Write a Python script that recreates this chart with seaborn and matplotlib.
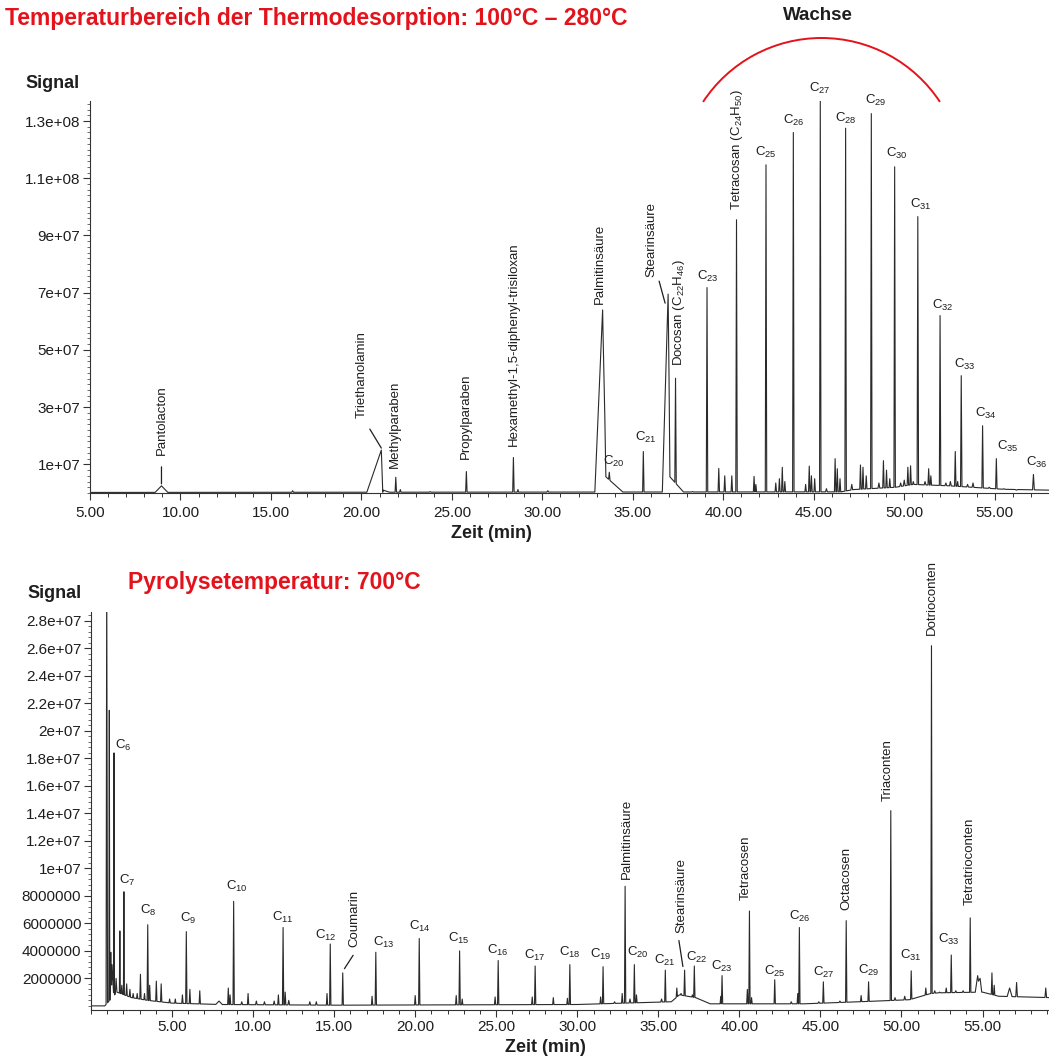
import numpy as np
import pandas as pd
import matplotlib
matplotlib.use('Agg')
import matplotlib.pyplot as plt
from matplotlib.patches import Arc
from matplotlib.ticker import MultipleLocator
from matplotlib.transforms import offset_copy
import seaborn as sns

# ---------------- data: thermodesorption (top) ----------------
# peak retention time (min), peak top signal, left / right half width (min)
td_time = [8.95, 16.2, 21.1, 21.2, 21.9, 22.15, 23.8, 25.8, 28.4, 28.65, 30.3,
           33.33, 33.45, 33.7, 35.58, 36.95, 37.0, 37.36, 38.3, 39.1, 39.75, 40.08,
           40.47, 40.73, 41.7, 41.8, 42.36, 42.9, 43.1, 43.26, 43.4, 43.87, 44.55,
           44.75, 44.87, 45.05, 45.36, 45.7, 46.18, 46.3, 46.45, 46.76, 47.1, 47.58,
           47.72, 47.9, 48.18, 48.6, 48.85, 49.02, 49.2, 49.47, 49.8, 50.0, 50.2,
           50.35, 50.5, 50.75, 51.15, 51.35, 51.47, 51.98, 52.3, 52.55, 52.82, 52.95,
           53.15, 53.5, 53.8, 54.33, 54.7, 55.09, 55.5, 56.2, 57.14]
td_height = [0.25e7, 0.08e7, 1.5e7, 0.1e7, 0.55e7, 0.12e7, 0.05e7, 0.75e7, 1.24e7, 0.12e7, 0.08e7,
             6.4e7, 0.6e7, 0.3e7, 1.45e7, 6.95e7, 0.6e7, 3.7e7, 0.05e7, 7.18e7, 0.86e7, 0.6e7,
             0.6e7, 9.55e7, 0.58e7, 0.3e7, 11.47e7, 0.35e7, 0.5e7, 0.9e7, 0.4e7, 12.6e7, 0.3e7,
             0.94e7, 0.6e7, 0.5e7, 13.7e7, 0.15e7, 1.2e7, 0.85e7, 0.5e7, 12.75e7, 0.3e7, 0.98e7,
             0.9e7, 0.6e7, 13.26e7, 0.35e7, 1.13e7, 0.8e7, 0.5e7, 11.4e7, 0.35e7, 0.45e7, 0.9e7,
             0.95e7, 0.4e7, 9.66e7, 0.4e7, 0.85e7, 0.6e7, 6.2e7, 0.35e7, 0.4e7, 1.45e7, 0.4e7,
             4.1e7, 0.3e7, 0.35e7, 2.35e7, 0.2e7, 1.2e7, 0.15e7, 0.1e7, 0.65e7]
td_wl = [0.35, 0.05, 0.8, 0.02, 0.04, 0.04, 0.05, 0.04, 0.04, 0.04, 0.05,
         0.43, 0.1, 0.04, 0.04, 0.32, 0.05, 0.04, 0.05, 0.04, 0.04, 0.04,
         0.04, 0.04, 0.04, 0.04, 0.04, 0.04, 0.04, 0.04, 0.04, 0.04, 0.04,
         0.04, 0.04, 0.04, 0.04, 0.05, 0.04, 0.04, 0.04, 0.04, 0.05, 0.04,
         0.04, 0.04, 0.04, 0.05, 0.04, 0.04, 0.04, 0.04, 0.05, 0.05, 0.04,
         0.04, 0.04, 0.04, 0.05, 0.04, 0.04, 0.04, 0.05, 0.05, 0.04, 0.04,
         0.04, 0.05, 0.05, 0.04, 0.06, 0.04, 0.06, 0.08, 0.05]
td_wr = [0.35, 0.05, 0.08, 0.35, 0.04, 0.04, 0.05, 0.04, 0.04, 0.04, 0.05,
         0.18, 1.0, 0.04, 0.04, 0.1, 0.8, 0.04, 0.05, 0.04, 0.04, 0.04,
         0.04, 0.04, 0.04, 0.04, 0.04, 0.04, 0.04, 0.04, 0.04, 0.04, 0.04,
         0.04, 0.04, 0.04, 0.04, 0.05, 0.04, 0.04, 0.04, 0.04, 0.05, 0.04,
         0.04, 0.04, 0.04, 0.05, 0.04, 0.04, 0.04, 0.04, 0.05, 0.05, 0.04,
         0.04, 0.04, 0.04, 0.05, 0.04, 0.04, 0.04, 0.05, 0.05, 0.04, 0.04,
         0.04, 0.05, 0.05, 0.04, 0.06, 0.04, 0.06, 0.08, 0.05]
td_base_time = [5, 46.5, 47.2, 49.5, 50.5, 52.5, 55.5, 58]
td_base_level = [0.02e7, 0.04e7, 0.12e7, 0.2e7, 0.3e7, 0.25e7, 0.13e7, 0.1e7]

td_labels = ['Pantolacton', 'Triethanolamin', 'Methylparaben', 'Propylparaben',
             'Hexamethyl-1,5-diphenyl-trisiloxan', 'Palmitinsäure', 'Stearinsäure',
             'Docosan (C$_{22}$H$_{46}$)', 'Tetracosan (C$_{24}$H$_{50}$)',
             'C$_{20}$', 'C$_{21}$', 'C$_{23}$', 'C$_{25}$', 'C$_{26}$', 'C$_{27}$', 'C$_{28}$',
             'C$_{29}$', 'C$_{30}$', 'C$_{31}$', 'C$_{32}$', 'C$_{33}$', 'C$_{34}$', 'C$_{35}$', 'C$_{36}$']
td_label_time = [8.95, 21.1, 21.9, 25.8, 28.4, 33.33, 36.95, 37.36, 40.73,
                 33.7, 35.58, 39.1, 42.36, 43.87, 45.36, 46.76, 48.18, 49.47, 50.75,
                 51.98, 53.15, 54.33, 55.09, 57.14]

td_yticks = [1e7, 3e7, 5e7, 7e7, 9e7, 1.1e8, 1.3e8]
td_yticklabels = ['1e+07', '3e+07', '5e+07', '7e+07', '9e+07', '1.1e+08', '1.3e+08']

# ---------------- data: pyrolysis 700°C (bottom) ----------------
py_time = [0.97, 1.13, 1.22, 1.3, 1.42, 1.55, 1.78, 1.9, 2.03, 2.2, 2.4, 2.6, 2.85, 3.05,
           3.3, 3.5, 3.62, 4.03, 4.33, 4.85, 5.2, 5.64, 5.88, 6.1, 6.71, 7.9, 8.47, 8.58,
           8.8, 9.3, 9.69, 10.2, 10.7, 11.3, 11.56, 11.85, 11.98, 12.2, 13.5, 13.9, 14.56,
           14.76, 15.53, 17.34, 17.57, 20.0, 20.25, 22.53, 22.74, 22.9, 24.93, 25.12, 27.22,
           27.4, 28.52, 29.39, 29.54, 31.44, 31.59, 32.3, 32.77, 32.95, 33.25, 33.52, 33.65,
           35.2, 35.43, 36.14, 36.4, 36.62, 37.1, 37.22, 38.85, 38.93, 40.49, 40.62, 40.75,
           42.18, 43.2, 43.6, 43.7, 44.9, 45.18, 46.2, 46.59, 47.51, 47.97, 49.34, 49.6,
           50.2, 50.6, 51.5, 51.85, 52.05, 52.35, 52.76, 53.07, 53.35, 53.8, 54.24, 54.7,
           54.85, 55.58, 55.72, 56.67, 57.1, 58.9]
py_height = [3.2e7, 2.15e7, 3.9e6, 3.0e6, 1.84e7, 2.0e6, 5.45e6, 1.5e6, 8.3e6, 1.6e6, 1.2e6,
             0.9e6, 0.9e6, 2.3e6, 0.9e6, 5.9e6, 1.5e6, 1.8e6, 1.6e6, 0.5e6, 0.5e6, 0.8e6, 5.4e6,
             1.2e6, 1.1e6, 0.35e6, 1.3e6, 0.8e6, 7.6e6, 0.3e6, 0.9e6, 0.35e6, 0.3e6, 0.35e6,
             0.8e6, 5.7e6, 1.0e6, 0.4e6, 0.3e6, 0.3e6, 0.9e6, 4.5e6, 2.4e6, 0.7e6, 3.9e6,
             0.75e6, 4.9e6, 0.75e6, 4.0e6, 0.5e6, 0.65e6, 3.3e6, 0.65e6, 2.9e6, 0.6e6, 0.55e6,
             3.0e6, 0.65e6, 2.85e6, 0.3e6, 0.9e6, 8.7e6, 0.5e6, 3.0e6, 0.8e6, 0.5e6, 2.6e6,
             1.3e6, 0.9e6, 2.6e6, 0.8e6, 2.9e6, 0.7e6, 2.2e6, 1.2e6, 6.9e6, 0.6e6, 1.9e6,
             0.3e6, 0.9e6, 5.7e6, 0.3e6, 1.75e6, 0.35e6, 6.2e6, 0.75e6, 1.75e6, 14.2e6, 0.6e6,
             0.7e6, 2.55e6, 1.3e6, 26.2e6, 1.1e6, 1.0e6, 1.3e6, 3.7e6, 1.1e6, 1.1e6, 6.4e6,
             2.2e6, 2.0e6, 2.4e6, 1.5e6, 1.3e6, 1.7e6, 1.3e6]
py_wl = [0.04, 0.03, 0.05, 0.05, 0.03, 0.05, 0.03, 0.04, 0.03, 0.04, 0.04, 0.04, 0.04, 0.04,
         0.04, 0.04, 0.04, 0.04, 0.04, 0.04, 0.04, 0.04, 0.04, 0.04, 0.04, 0.2, 0.04, 0.04,
         0.04, 0.05, 0.04, 0.05, 0.05, 0.05, 0.04, 0.04, 0.04, 0.05, 0.05, 0.05, 0.04,
         0.04, 0.04, 0.04, 0.04, 0.04, 0.04, 0.04, 0.04, 0.04, 0.04, 0.04, 0.04,
         0.04, 0.04, 0.04, 0.04, 0.04, 0.04, 0.05, 0.04, 0.04, 0.05, 0.04, 0.04,
         0.05, 0.04, 0.04, 0.05, 0.04, 0.04, 0.04, 0.04, 0.04, 0.04, 0.04, 0.04,
         0.04, 0.05, 0.04, 0.04, 0.05, 0.04, 0.05, 0.04, 0.04, 0.04, 0.04, 0.05,
         0.05, 0.04, 0.04, 0.04, 0.05, 0.05, 0.04, 0.04, 0.05, 0.05, 0.04, 0.15,
         0.1, 0.04, 0.04, 0.15, 0.05, 0.05]
py_wr = [0.05, 0.03, 0.05, 0.1, 0.03, 0.05, 0.03, 0.04, 0.03, 0.04, 0.04, 0.04, 0.04, 0.04,
         0.04, 0.04, 0.04, 0.04, 0.04, 0.04, 0.04, 0.04, 0.04, 0.04, 0.04, 0.2, 0.04, 0.04,
         0.04, 0.05, 0.04, 0.05, 0.05, 0.05, 0.04, 0.04, 0.04, 0.05, 0.05, 0.05, 0.04,
         0.04, 0.04, 0.04, 0.04, 0.04, 0.04, 0.04, 0.04, 0.04, 0.04, 0.04, 0.04,
         0.04, 0.04, 0.04, 0.04, 0.04, 0.04, 0.05, 0.04, 0.04, 0.05, 0.04, 0.04,
         0.05, 0.04, 0.04, 0.05, 0.04, 0.04, 0.04, 0.04, 0.04, 0.04, 0.04, 0.04,
         0.04, 0.05, 0.04, 0.04, 0.05, 0.04, 0.05, 0.04, 0.04, 0.04, 0.04, 0.05,
         0.05, 0.04, 0.04, 0.04, 0.05, 0.05, 0.04, 0.04, 0.05, 0.05, 0.04, 0.15,
         0.1, 0.04, 0.04, 0.15, 0.05, 0.05]
py_base_time = [0, 0.85, 1.6, 2.5, 3.5, 5, 8, 15, 30, 35.8, 36.3, 37.3, 38.2, 44, 48.5,
                50.5, 51.8, 52.3, 55, 56, 59.2]
py_base_level = [0.0, 0.0, 1.0e6, 0.6e6, 0.4e6, 0.2e6, 0.1e6, 0.05e6, 0.1e6, 0.3e6, 0.8e6,
                 0.6e6, 0.15e6, 0.15e6, 0.35e6, 0.45e6, 0.9e6, 0.95e6, 1.0e6, 0.7e6, 0.6e6]

py_labels = ['C$_6$', 'C$_7$', 'C$_8$', 'C$_9$', 'C$_{10}$', 'C$_{11}$', 'C$_{12}$', 'Coumarin',
             'C$_{13}$', 'C$_{14}$', 'C$_{15}$', 'C$_{16}$', 'C$_{17}$', 'C$_{18}$', 'C$_{19}$',
             'Palmitinsäure', 'C$_{20}$', 'C$_{21}$', 'Stearinsäure', 'C$_{22}$', 'C$_{23}$',
             'Tetracosen', 'C$_{25}$', 'C$_{26}$', 'C$_{27}$', 'Octacosen', 'C$_{29}$',
             'Triaconten', 'C$_{31}$', 'Dotrioconten', 'C$_{33}$', 'Tetratrioconten']
py_label_time = [1.42, 2.03, 3.5, 5.88, 8.8, 11.85, 14.76, 15.53, 17.57, 20.25, 22.74, 25.12,
                 27.4, 29.54, 31.59, 32.95, 33.52, 35.43, 36.62, 37.22, 38.93, 40.62, 42.18,
                 43.7, 45.18, 46.59, 47.97, 49.34, 50.6, 51.85, 53.07, 54.24]

py_yticks = [2e6 * k for k in range(1, 15)]
py_yticklabels = ['2000000', '4000000', '6000000', '8000000', '1e+07', '1.2e+07', '1.4e+07',
                  '1.6e+07', '1.8e+07', '2e+07', '2.2e+07', '2.4e+07', '2.6e+07', '2.8e+07']

xticks = [5, 10, 15, 20, 25, 30, 35, 40, 45, 50, 55]


def build_trace(t, h, wl, wr, bt, bv):
    # piecewise linear chromatogram through baseline anchors and peak apexes
    t, h, wl, wr = (np.asarray(a, float) for a in (t, h, wl, wr))
    knots = np.unique(np.concatenate([bt, t - wl, t, t + wr]))
    sig = np.interp(knots, bt, bv)
    above = h - np.interp(t, bt, bv)
    for ti, ai, l, r in zip(t, above, wl, wr):
        sig += ai * np.interp(knots, [ti - l, ti, ti + r], [0, 1, 0])
    return pd.DataFrame({'Zeit': knots, 'Signal': sig})


sns.set_style('ticks')
plt.rcParams['font.family'] = ['Liberation Sans', 'DejaVu Sans']
plt.rcParams['mathtext.fontset'] = 'custom'
plt.rcParams['mathtext.rm'] = 'Liberation Sans'
plt.rcParams['mathtext.it'] = 'Liberation Sans:italic'
plt.rcParams['mathtext.bf'] = 'Liberation Sans:bold'

W, H = 1049, 1062
RED = '#e3121b'
INK = '#1e1e1e'
fig = plt.figure(figsize=(W / 100, H / 100), dpi=100)

ax1 = fig.add_axes([90 / W, 1 - 493 / H, (W - 90) / W, (493 - 101) / H])
ax2 = fig.add_axes([91 / W, 1 - 1010 / H, (W - 91) / W, (1010 - 612) / H])

td = build_trace(td_time, td_height, td_wl, td_wr, td_base_time, td_base_level)
py = build_trace(py_time, py_height, py_wl, py_wr, py_base_time, py_base_level)

for ax, df in ((ax1, td), (ax2, py)):
    sns.lineplot(data=df, x='Zeit', y='Signal', ax=ax, color='#2a2a2a', linewidth=0.8,
                 estimator=None, sort=False)
    ax.set_xlabel('')
    ax.set_ylabel('')
    sns.despine(ax=ax)
    for s in ('left', 'bottom'):
        ax.spines[s].set_color('#333333')
        ax.spines[s].set_linewidth(0.8)
    ax.set_xticks(xticks)
    ax.set_xticklabels([f'{v:.2f}' for v in xticks])
    ax.xaxis.set_minor_locator(MultipleLocator(1))
    ax.tick_params(axis='both', which='major', labelsize=11, length=5, width=0.8,
                   colors='#333333', labelcolor=INK, pad=2)
    ax.tick_params(axis='x', which='minor', length=3, width=0.7, colors='#333333')
    ax.tick_params(axis='y', which='minor', length=2, width=0.6, colors='#555555')

ax1.tick_params(axis='x', which='major', pad=4)

ax1.set_xlim(5, 58)
ax1.set_ylim(0, 1.37e8)
ax1.set_yticks(td_yticks)
ax1.set_yticklabels(td_yticklabels)
ax1.yaxis.set_minor_locator(MultipleLocator(2e6))

ax2.set_xlim(0, 59.1)
ax2.set_ylim(-0.3e6, 2.865e7)
ax2.set_yticks(py_yticks)
ax2.set_yticklabels(py_yticklabels)
ax2.yaxis.set_minor_locator(MultipleLocator(4e5))


def leader(ax, t, y, p1, p2):
    ax.annotate('', xy=(t, y), xycoords=offset_copy(ax.transData, fig=fig, x=p2[0], y=p2[1], units='dots'),
                xytext=(t, y), textcoords=offset_copy(ax.transData, fig=fig, x=p1[0], y=p1[1], units='dots'),
                arrowprops=dict(arrowstyle='-', color=INK, lw=0.9, shrinkA=0, shrinkB=0))


def put_labels(ax, df, names, times, offsets, leaders):
    for name, t in zip(names, times):
        y = np.interp(t, df['Zeit'], df['Signal'])
        dx, dy = offsets.get(name, (0, 12))
        rotated = not name.startswith('C$')
        ax.annotate(name, xy=(t, y), xytext=(dx, dy), textcoords='offset pixels',
                    rotation=90 if rotated else 0, ha='center',
                    va='bottom' if rotated else 'center', fontsize=9.5, color=INK)
        if name in leaders:
            leader(ax, t, y, *leaders[name])


td_offsets = {'Pantolacton': (0, 31), 'Triethanolamin': (-20, 32), 'Methylparaben': (-1, 9),
              'Propylparaben': (0, 13), 'Hexamethyl-1,5-diphenyl-trisiloxan': (0, 12),
              'Palmitinsäure': (-3, 6), 'Stearinsäure': (-17, 17),
              'Docosan (C$_{22}$H$_{46}$)': (3, 12), 'Tetracosan (C$_{24}$H$_{50}$)': (0, 10),
              'C$_{20}$': (5, 11), 'C$_{21}$': (2, 14), 'C$_{23}$': (1, 11), 'C$_{27}$': (-1, 12.5),
              'C$_{28}$': (0, 10), 'C$_{29}$': (4.5, 13.5), 'C$_{30}$': (2, 13.5), 'C$_{31}$': (3, 12),
              'C$_{32}$': (3, 10), 'C$_{33}$': (4, 11), 'C$_{34}$': (3, 12), 'C$_{35}$': (11, 12.5),
              'C$_{36}$': (3, 12)}
td_leaders = {'Pantolacton': ((0, 19), (0, 2)), 'Triethanolamin': ((-11.5, 21), (0, 2)),
              'Stearinsäure': ((-9, 13), (-3, -9))}

py_offsets = {'C$_6$': (9, 7), 'C$_7$': (3, 11), 'C$_8$': (0, 14), 'C$_9$': (2, 13),
              'C$_{10}$': (3, 15), 'C$_{11}$': (0, 10), 'C$_{12}$': (-4, 9), 'Coumarin': (12, 26),
              'C$_{13}$': (8, 10), 'C$_{14}$': (1, 12), 'C$_{15}$': (-1, 12), 'C$_{16}$': (0, 10.5),
              'C$_{17}$': (0, 11), 'C$_{18}$': (0, 12.5), 'C$_{19}$': (-2, 12),
              'Palmitinsäure': (1.5, 7), 'C$_{20}$': (3.5, 12), 'C$_{21}$': (0, 10),
              'Stearinsäure': (-3, 37), 'C$_{22}$': (2, 9), 'C$_{23}$': (0, 9),
              'Tetracosen': (-4, 11), 'C$_{25}$': (0, 8), 'C$_{26}$': (0, 11), 'C$_{27}$': (0, 9.5),
              'Octacosen': (0, 11), 'C$_{29}$': (0, 11), 'Triaconten': (-3, 10), 'C$_{31}$': (0, 15),
              'Dotrioconten': (0, 10.5), 'C$_{33}$': (-2, 16), 'Tetratrioconten': (0, 13)}
py_leaders = {'Coumarin': ((10.4, 17.6), (1.7, 4.2)), 'Stearinsäure': ((-5.7, 29.6), (-1.7, 3.6))}

put_labels(ax1, td, td_labels, td_label_time, td_offsets, td_leaders)
put_labels(ax2, py, py_labels, py_label_time, py_offsets, py_leaders)


def fx(x, y):
    return x / W, 1 - y / H


fig.text(*fx(5, 18), 'Temperaturbereich der Thermodesorption: 100°C – 280°C', color=RED,
         fontsize=16.5, fontweight='bold', ha='left', va='center')
fig.text(*fx(818, 15), 'Wachse', fontsize=13.5, fontweight='bold', ha='center', va='center', color=INK)
fig.text(*fx(128, 583), 'Pyrolysetemperatur: 700°C', color=RED, fontsize=16.5,
         fontweight='bold', ha='left', va='center')
fig.text(*fx(53, 84), 'Signal', fontsize=13, fontweight='bold', ha='center', va='center', color=INK)
fig.text(*fx(55, 593), 'Signal', fontsize=13, fontweight='bold', ha='center', va='center', color=INK)
fig.text(*fx(491, 533), 'Zeit (min)', fontsize=13, fontweight='bold', ha='center', va='center', color=INK)
fig.text(*fx(545, 1048), 'Zeit (min)', fontsize=13, fontweight='bold', ha='center', va='center', color=INK)

# red "Wachse" arc over the wax peaks
fig.add_artist(Arc((821.5 / 100, (H - 179.7) / 100), 2.834, 2.834, theta1=33.3, theta2=146.7,
                   transform=fig.dpi_scale_trans, color=RED, lw=1.4))

fig.savefig('out.png', dpi=100)
